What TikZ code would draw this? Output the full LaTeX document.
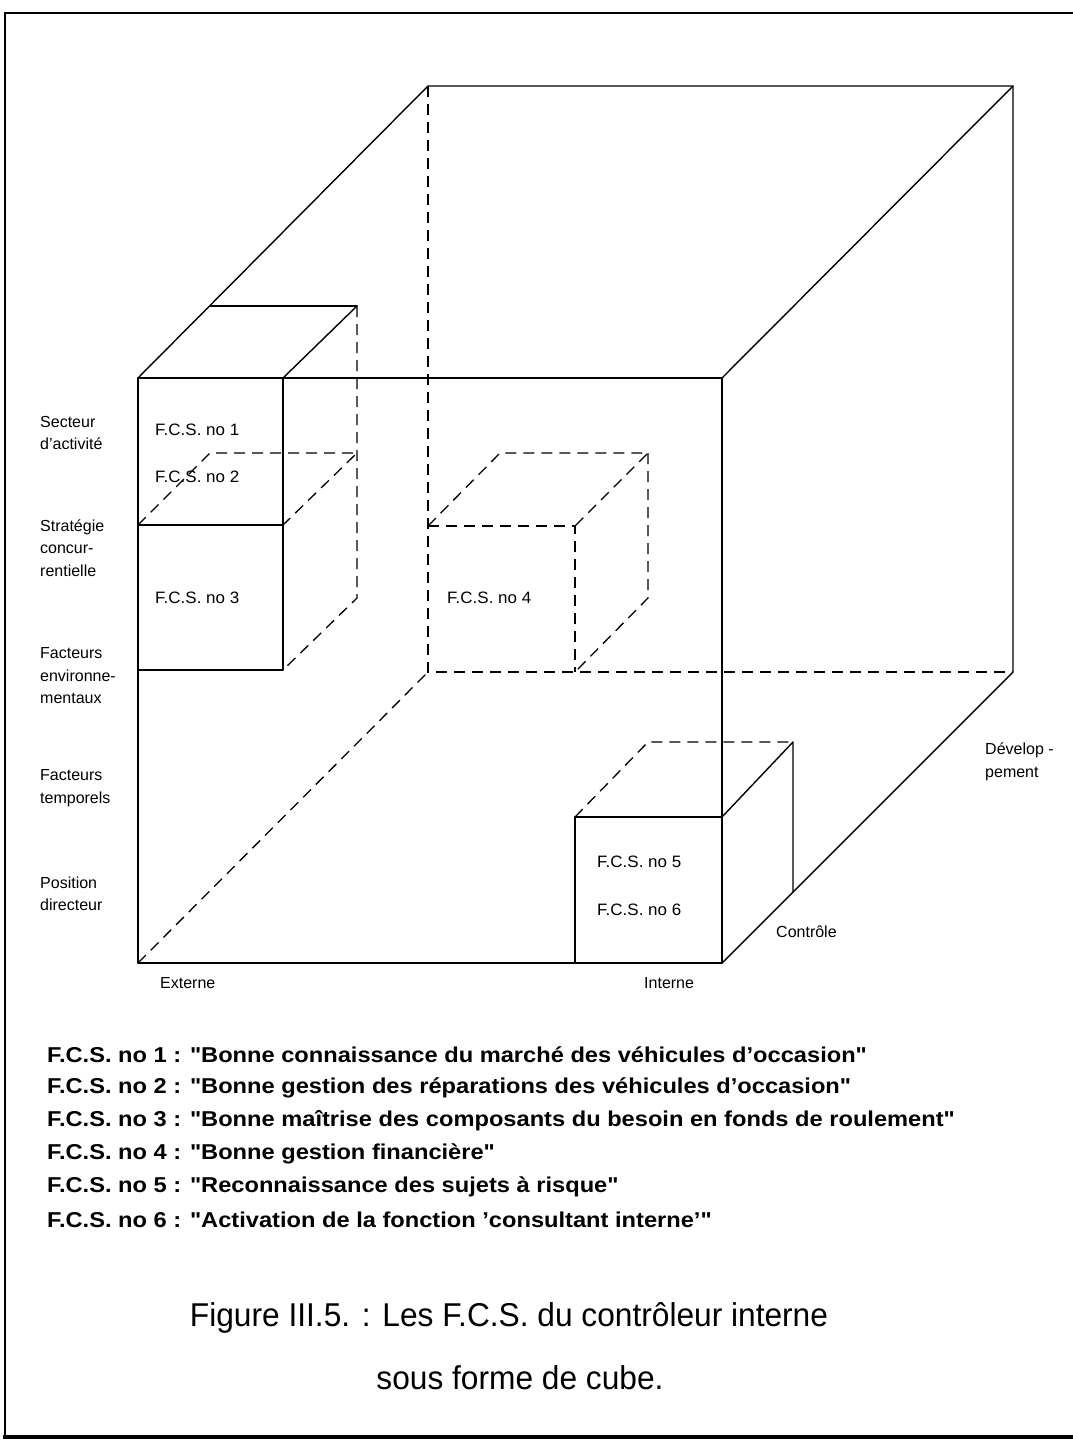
\documentclass[tikz,border=0pt]{standalone}
\usepackage{fontspec}
\setmainfont{Liberation Sans}
\newfontfamily\capfont[FakeStretch=0.96]{Liberation Sans}
\newfontfamily\itemfont[FakeStretch=1.1]{Liberation Sans}
\newfontfamily\fcsfont[FakeStretch=1.03]{Liberation Sans}
\begin{document}
\begin{tikzpicture}[x=1pt,y=-1pt,
  edge/.style={line width=1.4pt, line join=round, line cap=round},
  hidden/.style={line width=1.3pt, dash pattern=on 11pt off 7pt},
  frameline/.style={line width=2pt},
  lab/.style={font=\fontsize{16}{22.5}\selectfont, anchor=west, inner sep=0pt, align=left},
  fcs/.style={font=\fcsfont\fontsize{16.5}{18}\selectfont, anchor=west, inner sep=0pt},
  item/.style={font=\itemfont\bfseries\fontsize{21.5}{24}\selectfont, anchor=west, inner sep=0pt},
  captext/.style={font=\capfont\fontsize{33}{36}\selectfont, inner sep=0pt},
]
\useasboundingbox (0,0) rectangle (1073,1443);
\fill[white] (0,0) rectangle (1073,1443);
% frame
\coordinate (fr1) at (5,1436);
\coordinate (fr2) at (5,13);
\coordinate (fr3) at (1073,13);
\coordinate (fr4) at (3,1437);
\coordinate (fr5) at (1073,1437);
\draw[frameline] (fr1) -- (fr2) -- (fr3);
\draw[line width=3.5pt] (fr4) -- (fr5);

% big cube
\coordinate (FTL) at (138,378);
\coordinate (FTR) at (722,378);
\coordinate (FBR) at (722,963);
\coordinate (FBL) at (138,963);
\coordinate (BTL) at (428,86);
\coordinate (BTR) at (1013,86);
\coordinate (BBR) at (1013,672);
\coordinate (BBL) at (428,672);
\draw[edge] (FTL) -- (FTR) -- (FBR) -- (FBL) -- cycle;
\draw[edge] (FTL) -- (BTL) -- (BTR) -- (BBR) -- (FBR);
\draw[edge] (FTR) -- (BTR);
\draw[hidden] (BTL) -- (BBL) -- (BBR);
\draw[hidden] (FBL) -- (BBL);

% cube F.C.S. 1-3
\coordinate (a1) at (138,378);
\coordinate (a2) at (283,378);
\coordinate (a3) at (283,670);
\coordinate (a4) at (138,670);
\coordinate (a5) at (210,306);
\coordinate (a6) at (357,306);
\coordinate (a7) at (357,598);
\coordinate (m1) at (138,525);
\coordinate (m2) at (283,525);
\coordinate (m3) at (210,453);
\coordinate (m4) at (357,453);
\draw[edge] (a1) -- (a2) -- (a3) -- (a4);
\draw[edge] (m1) -- (m2);
\draw[edge] (a5) -- (a6);
\draw[edge] (a2) -- (a6);
\draw[hidden] (a6) -- (a7) -- (a3);
\draw[hidden] (m1) -- (m3) -- (m4) -- (m2);

% cube F.C.S. 4
\coordinate (c1) at (428,526);
\coordinate (c2) at (575,526);
\coordinate (c3) at (575,672);
\coordinate (c4) at (500,453);
\coordinate (c5) at (648,453);
\coordinate (c6) at (648,598);
\draw[hidden] (c1) -- (c2) -- (c3);
\draw[hidden] (c1) -- (c4) -- (c5) -- (c2);
\draw[hidden] (c5) -- (c6) -- (c3);

% cube F.C.S. 5-6
\coordinate (e1) at (575,817);
\coordinate (e2) at (722,817);
\coordinate (e4) at (575,963);
\coordinate (e5) at (648,742);
\coordinate (e6) at (793,742);
\coordinate (e7) at (793,892);
\draw[edge] (e4) -- (e1) -- (e2);
\draw[edge] (e2) -- (e6) -- (e7);
\draw[hidden] (e1) -- (e5) -- (e6);

% texts inside cubes
\node[fcs] (t1) at (155,430) {F.C.S. no 1};
\node[fcs] (t2) at (155,477) {F.C.S. no 2};
\node[fcs] (t3) at (155,598) {F.C.S. no 3};
\node[fcs] (t4) at (447,598) {F.C.S. no 4};
\node[fcs] (t5) at (597,862) {F.C.S. no 5};
\node[fcs] (t6) at (597,910) {F.C.S. no 6};

% left labels
\node[lab] (l1) at (40,433) {Secteur\\d’activité};
\node[lab] (l2) at (40,548) {Stratégie\\concur-\\rentielle};
\node[lab] (l3) at (40,676) {Facteurs\\environne-\\mentaux};
\node[lab] (l4) at (40,788) {Facteurs\\temporels};
\node[lab] (l5) at (40,894) {Position\\directeur};

% axis labels
\node[lab] (x1) at (160,983) {Externe};
\node[lab] (x2) at (644,983) {Interne};
\node[lab] (x3) at (776,932) {Contrôle};
\node[lab] (x4) at (985,762) {Dévelop -\\pement};

% list
\node[item] (i1) at (47,1055) {F.C.S. no 1 : "Bonne connaissance du marché des véhicules d’occasion"};
\node[item] (i2) at (47,1088) {F.C.S. no 2 : "Bonne gestion des réparations des véhicules d’occasion"};
\node[item] (i3) at (47,1121) {F.C.S. no 3 : "Bonne maîtrise des composants du besoin en fonds de roulement"};
\node[item] (i4) at (47,1154) {F.C.S. no 4 : "Bonne gestion financière"};
\node[item] (i5) at (47,1187) {F.C.S. no 5 : "Reconnaissance des sujets à risque"};
\node[item] (i6) at (47,1220) {F.C.S. no 6 : "Activation de la fonction ’consultant interne’"};

% caption
\node[captext] (c1t) at (509,1318) {Figure III.5. : Les F.C.S. du contrôleur interne};
\node[captext] (c2t) at (520,1378) {sous forme de cube.};
\end{tikzpicture}
\end{document}
